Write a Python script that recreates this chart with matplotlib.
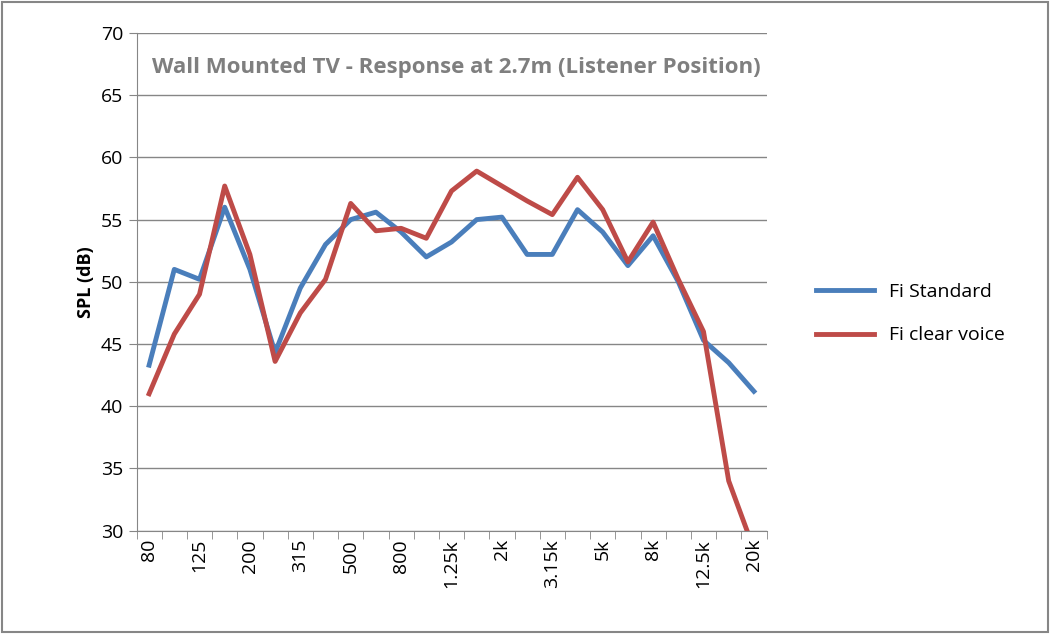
import matplotlib.pyplot as plt
import numpy as np

freqs = ['80', '100', '125', '160', '200', '250', '315', '400', '500', '630', '800', '1k',
         '1.25k', '1.6k', '2k', '2.5k', '3.15k', '4k', '5k', '6.3k', '8k', '10k', '12.5k', '16k', '20k']
fi_standard = [43.3, 51.0, 50.2, 56.0, 51.0, 44.3, 49.5, 53.0, 55.0, 55.6, 54.0, 52.0,
               53.2, 55.0, 55.2, 52.2, 52.2, 55.8, 54.0, 51.3, 53.7, 50.0, 45.3, 43.5, 41.2]
fi_clear = [41.0, 45.8, 49.0, 57.7, 52.2, 43.6, 47.5, 50.2, 56.3, 54.1, 54.3, 53.5,
            57.3, 58.9, 57.7, 56.5, 55.4, 58.4, 55.8, 51.6, 54.8, 50.2, 46.0, 34.0, 28.5]

plt.rcParams['font.family'] = 'Open Sans'
fig = plt.figure(figsize=(10.5, 6.34), dpi=100)
ax = fig.add_axes([0.130, 0.163, 0.600, 0.785])

x = np.arange(len(freqs))
ax.plot(x, fi_standard, color='#4A7EBB', linewidth=3.5, label='Fi Standard')
ax.plot(x, fi_clear, color='#BE4B48', linewidth=3.5, label='Fi clear voice')

ax.set_xlim(-0.5, len(freqs) - 0.5)
ax.set_ylim(30, 70)
ax.set_yticks(range(30, 71, 5))
ax.yaxis.grid(True, color='#868686', linewidth=1)
ax.set_axisbelow(True)
ax.set_xticks(x[::2])
ax.set_xticklabels(freqs[::2], rotation=90, fontsize=14)
ax.set_xticks(np.arange(-0.5, len(freqs), 1), minor=True)
ax.tick_params(axis='x', which='major', length=0, pad=6)
ax.tick_params(axis='x', which='minor', length=6, color='#868686')
ax.tick_params(axis='y', labelsize=14, length=6, color='#868686')
for s in ['top', 'right']:
    ax.spines[s].set_visible(False)
for s in ['left', 'bottom']:
    ax.spines[s].set_color('#868686')
ax.set_ylabel('SPL (dB)', fontsize=13, fontweight='bold')
ax.text(0.025, 0.93, 'Wall Mounted TV - Response at 2.7m (Listener Position)',
        transform=ax.transAxes, fontsize=16, fontweight='bold', color='#7F7F7F', va='center')

fig.legend(loc='center left', bbox_to_anchor=(0.76, 0.505), frameon=False,
           fontsize=14, handlelength=3, labelspacing=1.3)
fig.patches.append(plt.Rectangle((0.002, 0.003), 0.996, 0.994, transform=fig.transFigure,
                                 fill=False, edgecolor='#868686', linewidth=1.5))
fig.savefig('out.png', dpi=100)
